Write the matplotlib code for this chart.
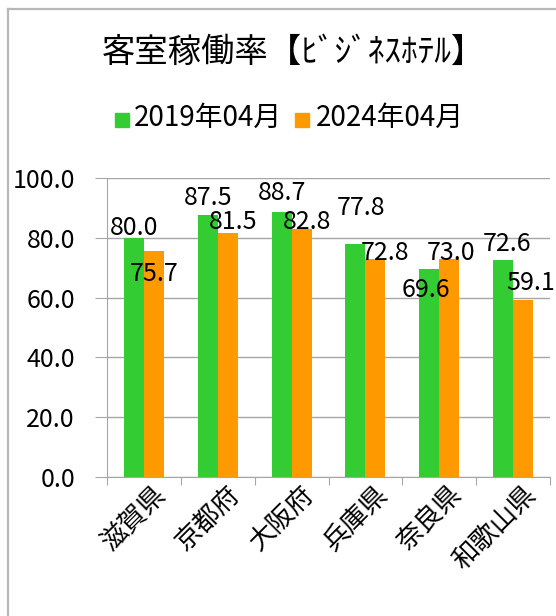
import numpy as np
import matplotlib.pyplot as plt
from matplotlib.lines import Line2D
from matplotlib.transforms import ScaledTranslation

plt.rcParams['font.family'] = ['Noto Sans CJK JP', 'DejaVu Sans']

prefs = ['滋賀県', '京都府', '大阪府', '兵庫県', '奈良県', '和歌山県']
rate_2019 = [80.0, 87.5, 88.7, 77.8, 69.6, 72.6]
rate_2024 = [75.7, 81.5, 82.8, 72.8, 73.0, 59.1]
series_names = ['2019年04月', '2024年04月']
yticks = [0, 20, 40, 60, 80, 100]

# where the data labels sit in the picture (they were moved by hand)
lab_2019 = [(0.0, 83.3), (0.0, 93.3), (0.0, 95.0), (0.07, 90.0), (-0.05, 62.5), (0.05, 78.0)]
lab_2024 = [(0.0, 68.0), (0.07, 85.3), (0.07, 85.3), (0.13, 75.0), (0.02, 75.0), (0.1, 65.0)]

green = '#33cc33'
orange = '#ff9900'
grid_c = '#a6a6a6'

fig = plt.figure(figsize=(5.56, 6.16), dpi=100)
ax = fig.add_axes([107/556, 1-477/616, (550-107)/556, (477-178)/616])

x = np.arange(len(prefs))
w = 0.27
ax.bar(x - w/2, rate_2019, w, color=green, zorder=2)
ax.bar(x + w/2, rate_2024, w, color=orange, zorder=2)

for i in range(len(prefs)):
    dx, yy = lab_2019[i]
    ax.text(x[i] - w/2 + dx, yy, f'{rate_2019[i]:.1f}', ha='center', va='center',
            fontsize=18, zorder=3, clip_on=False)
    dx, yy = lab_2024[i]
    ax.text(x[i] + w/2 + dx, yy, f'{rate_2024[i]:.1f}', ha='center', va='center',
            fontsize=18, zorder=3, clip_on=False)

ax.set_xlim(-0.5, len(prefs) - 0.5)
ax.set_ylim(0, 100)
ax.set_yticks(yticks)
ax.set_yticklabels([f'{v:.1f}' for v in yticks], fontsize=18)
ax.yaxis.grid(True, color=grid_c, lw=1, zorder=0)
ax.tick_params(axis='y', length=9, color=grid_c, pad=14)

# category labels, drawn as text so they can sit a bit right of the centre
ax.set_xticks(np.arange(len(prefs) + 1) - 0.5)
ax.set_xticklabels([])
ax.tick_params(axis='x', length=6, color=grid_c)
lab_tr = ax.get_xaxis_transform() + ScaledTranslation(9/100, -4/100, fig.dpi_scale_trans)
for i, name in enumerate(prefs):
    ax.text(x[i], 0, name, transform=lab_tr, rotation=45, ha='right', va='top',
            rotation_mode='anchor', fontsize=19, clip_on=False)

for s in ['top', 'right']:
    ax.spines[s].set_visible(False)
for s in ['left', 'bottom']:
    ax.spines[s].set_color(grid_c)

fig.text(293/556, 1-52/616, '客室稼働率【ﾋﾞｼﾞﾈｽﾎﾃﾙ】', ha='center', va='center', fontsize=24)

# legend
fig.patches.append(plt.Rectangle((115/556, 1-127/616), 14/556, 14/616, color=green, transform=fig.transFigure))
fig.text(134/556, 1-118/616, series_names[0], ha='left', va='center', fontsize=20)
fig.patches.append(plt.Rectangle((295/556, 1-127/616), 14/556, 14/616, color=orange, transform=fig.transFigure))
fig.text(316/556, 1-118/616, series_names[1], ha='left', va='center', fontsize=20)

# chart frame
fig.add_artist(Line2D([8/556, 8/556], [0, 1-9/616], color='#b8b8b8', lw=1.6, transform=fig.transFigure))
fig.add_artist(Line2D([8/556, 1], [1-9/616, 1-9/616], color='#b8b8b8', lw=1.6, transform=fig.transFigure))

fig.savefig('out.png', dpi=100)
